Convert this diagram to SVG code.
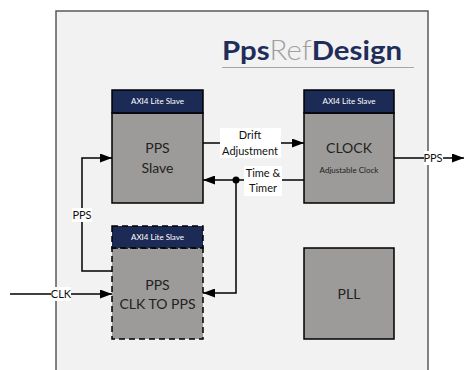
<svg xmlns="http://www.w3.org/2000/svg" width="464" height="370" viewBox="0 0 464 370">
<style>
.hdr{fill:#1c2a56;stroke:#000;stroke-width:1.5}
.body{fill:#9c9b99;stroke:#000;stroke-width:1.5}
.dash{stroke-dasharray:6 4}
.ht{font-family:Lato,"Liberation Sans",sans-serif;font-size:8px;fill:#fff;text-anchor:middle}
.bt{font-family:Lato,"Liberation Sans",sans-serif;font-size:14px;fill:#222;text-anchor:middle}
.st{font-family:Lato,"Liberation Sans",sans-serif;font-size:8px;fill:#222;text-anchor:middle}
.lt{font-family:Lato,"Liberation Sans",sans-serif;font-size:11px;fill:#111;text-anchor:middle}
.ln{fill:none;stroke:#000;stroke-width:1.5}
.lbg{fill:#fff}
</style>
<defs>
<marker id="ah" markerWidth="12" markerHeight="9" refX="12" refY="4.5" orient="auto" markerUnits="userSpaceOnUse">
<path d="M0,0 L12,4.5 L0,9 Z" fill="#000"/>
</marker>
</defs>
<rect x="0" y="0" width="464" height="370" fill="#fff"/>
<g id="frame">
<rect x="56" y="11" width="372" height="400" fill="#f2f2f2" stroke="#595959" stroke-width="1.5"/>
<text x="222" y="60" font-family="Lato,'Liberation Sans',sans-serif" font-size="27" textLength="180" lengthAdjust="spacingAndGlyphs"><tspan font-weight="bold" fill="#1f2d5a">Pps</tspan><tspan fill="#a0a0a0" font-weight="300">Ref</tspan><tspan font-weight="bold" fill="#1f2d5a">Design</tspan></text>
<line x1="222" y1="67.5" x2="414" y2="67.5" stroke="#a6a6a6" stroke-width="1"/>
</g>
<g id="connectors">
<line class="ln" x1="203" y1="143" x2="304" y2="143" marker-end="url(#ah)"/>
<line class="ln" x1="304" y1="180" x2="203" y2="180" marker-end="url(#ah)"/>
<circle cx="236" cy="180" r="3.5" fill="#000"/>
<polyline class="ln" points="236,180 236,293 203,293" marker-end="url(#ah)"/>
<polyline class="ln" points="112,271 82,271 82,158 112,158" marker-end="url(#ah)"/>
<line class="ln" x1="10" y1="294" x2="112" y2="294" marker-end="url(#ah)"/>
<line class="ln" x1="394" y1="158" x2="464" y2="158" marker-end="url(#ah)"/>
<rect class="lbg" x="220" y="128" width="61" height="30"/>
<text class="lt" x="250" y="139">Drift</text>
<text class="lt" x="250" y="155">Adjustment</text>
<rect class="lbg" x="244" y="166" width="38" height="30"/>
<text class="lt" x="263" y="177">Time &amp;</text>
<text class="lt" x="263" y="192">Timer</text>
<rect class="lbg" x="72" y="208" width="20" height="14"/>
<text class="lt" x="82" y="219">PPS</text>
<rect class="lbg" x="51" y="287" width="20" height="14"/>
<text class="lt" x="61" y="298">CLK</text>
<rect class="lbg" x="424" y="151" width="19" height="14"/>
<text class="lt" x="433" y="162">PPS</text>
</g>
<g id="pps-slave">
<rect class="body" x="112" y="113" width="91" height="90"/>
<rect class="hdr" x="112" y="90" width="91" height="23"/>
<text class="ht" x="157.5" y="104">AXI4 Lite Slave</text>
<text class="bt" x="157.5" y="153">PPS</text>
<text class="bt" x="157.5" y="173">Slave</text>
</g>
<g id="clock">
<rect class="body" x="304" y="113" width="90" height="90"/>
<rect class="hdr" x="304" y="90" width="90" height="23"/>
<text class="ht" x="349" y="104">AXI4 Lite Slave</text>
<text class="bt" x="349" y="153" font-size="15">CLOCK</text>
<text class="st" x="349" y="173">Adjustable Clock</text>
</g>
<g id="clk-to-pps">
<rect class="body dash" x="112" y="248" width="91" height="91"/>
<rect class="hdr dash" x="112" y="226" width="91" height="22"/>
<text class="ht" x="157.5" y="240">AXI4 Lite Slave</text>
<text class="bt" x="157.5" y="290">PPS</text>
<text class="bt" x="157.5" y="309">CLK TO PPS</text>
</g>
<g id="pll">
<rect class="body" x="304" y="248" width="90" height="91"/>
<text class="bt" x="349" y="299">PLL</text>
</g>
</svg>
